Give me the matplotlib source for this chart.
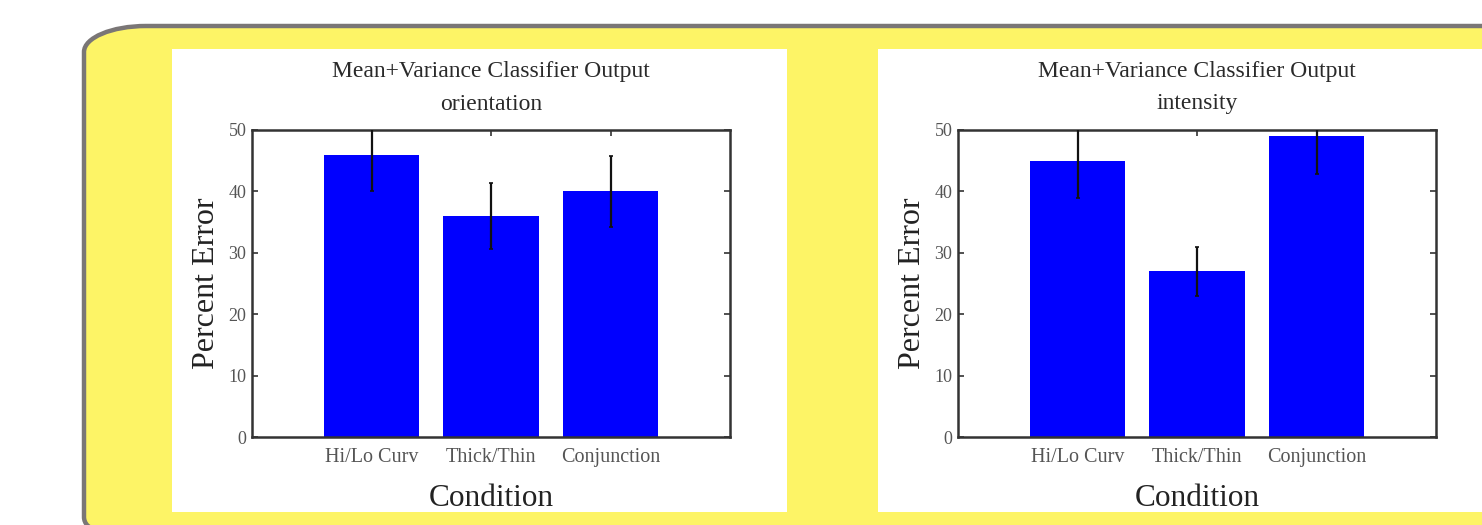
import numpy as np
import matplotlib
matplotlib.use('Agg')
from matplotlib import pyplot as plt
from matplotlib.path import Path
from matplotlib.patches import PathPatch, Rectangle

# Values
categories = ['Hi/Lo Curv', 'Thick/Thin', 'Conjunction']
orient_err = [46, 36, 40]
orient_sd = [6.0, 5.3, 5.8]
intens_err = [45, 27, 49]
intens_sd = [6.1, 4.0, 6.2]
titles = ['orientation', 'intensity']
yticks = [0, 10, 20, 30, 40, 50]

plt.rcParams['font.family'] = ['Liberation Serif', 'DejaVu Serif']

W, H = 1482, 525
fig = plt.figure(figsize=(W/100, H/100), dpi=100)
fig.patch.set_facecolor('white')

# Background: yellow rounded slide box with grey border, plus white panels
bg = fig.add_axes([0, 0, 1, 1])
bg.set_xlim(0, W)
bg.set_ylim(H, 0)
bg.axis('off')
x0, y0, x1, y1 = 84, 26, W + 20, H + 4
rx, ry = 62, 26
k = 0.5523
verts = [(x0, y1 - 12), (x0, y0 + ry),
         (x0, y0 + ry - k*ry), (x0 + rx - k*rx, y0), (x0 + rx, y0),
         (x1, y0), (x1, y1), (x0 + 12, y1),
         (x0 + 12 - k*12, y1), (x0, y1 - 12 + k*12), (x0, y1 - 12),
         (x0, y1 - 12)]
codes = [Path.MOVETO, Path.LINETO,
         Path.CURVE4, Path.CURVE4, Path.CURVE4,
         Path.LINETO, Path.LINETO, Path.LINETO,
         Path.CURVE4, Path.CURVE4, Path.CURVE4,
         Path.CLOSEPOLY]
bg.add_patch(PathPatch(Path(verts, codes), facecolor='#fdf466',
                       edgecolor='#7a7676', linewidth=3.2))
bg.add_patch(Rectangle((172, 49), 615, 463, facecolor='white', edgecolor='none'))
bg.add_patch(Rectangle((878, 49), 620, 463, facecolor='white', edgecolor='none'))

def draw_panel(left_px, vals, sds, sub):
    ax = fig.add_axes([left_px/W, (H - 437)/H, 478/W, 307/H])
    x = np.arange(1, len(categories) + 1)
    ax.bar(x, vals, width=0.8, color='#0000ff', zorder=2)
    ax.errorbar(x, vals, yerr=sds, fmt='none', ecolor='#111111',
                elinewidth=1.6, capsize=1.5, capthick=1.2, zorder=3)
    ax.set_xlim(0, 4)
    ax.set_ylim(0, 50)
    ax.set_yticks(yticks)
    ax.set_xticks(x)
    ax.set_xticklabels(categories)
    for s in ax.spines.values():
        s.set_color('#333333')
        s.set_linewidth(1.8)
    ax.tick_params(direction='in', length=4, width=1.2, color='#333333',
                   top=True, right=True, labelcolor='#555555')
    ax.tick_params(axis='x', labelsize=14.5, pad=8)
    ax.tick_params(axis='y', labelsize=13, pad=4)
    ax.set_ylabel('Percent Error', fontsize=23, color='#222222', labelpad=5)
    ax.set_xlabel('Condition', fontsize=22.5, color='#222222', labelpad=12)
    ax.text(0.5, 1.0 + (130 - 71)/307, 'Mean+Variance Classifier Output',
            transform=ax.transAxes, ha='center', va='center',
            fontsize=17, color='#2a2a2a')
    ax.text(0.5, 1.0 + (130 - 104)/307, sub,
            transform=ax.transAxes, ha='center', va='center',
            fontsize=17, color='#2a2a2a')
    return ax

draw_panel(252, orient_err, orient_sd, titles[0])
draw_panel(958, intens_err, intens_sd, titles[1])

fig.savefig('out.png', dpi=100)
